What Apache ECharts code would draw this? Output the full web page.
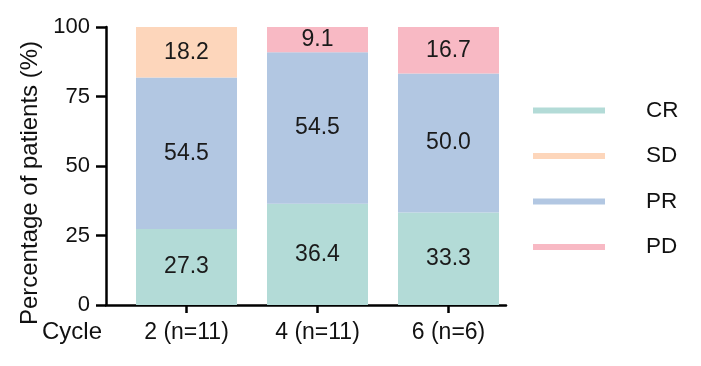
<!DOCTYPE html>
<html>
<head>
<meta charset="utf-8">
<script src="https://cdn.jsdelivr.net/npm/echarts@6/dist/echarts.min.js"></script>
<style>html,body{margin:0;padding:0;background:#fff}#c{width:701px;height:366px}</style>
</head>
<body>
<div id="c"></div>
<script>
var categories = ['2 (n=11)', '4 (n=11)', '6 (n=6)'];
var CR = [27.3, 36.4, 33.3];
var PR = [54.5, 54.5, 50.0];
var SD = [18.2, 0, 0];
var PD = [0, 9.1, 16.7];
var yTicks = [0, 25, 50, 75, 100];
var legendOrder = ['CR', 'SD', 'PR', 'PD'];

var colors = {CR: '#b3dbd7', SD: '#fdd6bb', PR: '#b2c7e2', PD: '#f8b9c4'};
var FONT = 'Liberation Sans, Arial, sans-serif';

function mk(name, arr) {
  return {
    name: name, type: 'bar', stack: 'all', barWidth: 101,
    xAxisIndex: 0, yAxisIndex: 0,
    data: arr,
    itemStyle: {color: colors[name]},
    label: {
      show: true, position: 'inside', color: '#1a1a1a', fontSize: 23, fontFamily: FONT,
      formatter: function (p) { return p.value === 0 ? '' : p.value.toFixed(1); }
    },
    emphasis: {disabled: true}
  };
}

var axisBlack = {color: '#000', width: 2.5};
var chart = echarts.init(document.getElementById('c'), null, {renderer: 'canvas'});
chart.setOption({
  animation: false,
  textStyle: {fontFamily: FONT},
  title: {text: 'Cycle', left: 42, top: 320, padding: 0, textStyle: {fontSize: 24, fontWeight: 'normal', color: '#111', fontFamily: FONT}},
  grid: [
    {left: 121, right: 187, top: 27, bottom: 61},
    {left: 106, right: 195, top: 27, bottom: 61}
  ],
  legend: {
    orient: 'vertical', left: 528, top: 94, itemWidth: 72, itemHeight: 6, itemGap: 22.5,
    icon: 'rect', data: legendOrder,
    textStyle: {fontSize: 22.5, color: '#111', lineHeight: 22, padding: [0, 0, 0, 36], fontFamily: FONT}
  },
  xAxis: [
    {
      type: 'category', gridIndex: 0, data: categories,
      axisLine: {show: false},
      axisTick: {show: true, alignWithLabel: true, length: 8, lineStyle: axisBlack},
      axisLabel: {margin: 16, fontSize: 23, color: '#111', fontFamily: FONT}
    },
    {
      type: 'value', gridIndex: 1, min: 0, max: 1,
      splitLine: {show: false}, axisTick: {show: false}, axisLabel: {show: false},
      axisLine: {show: true, lineStyle: axisBlack}
    }
  ],
  yAxis: [
    {
      type: 'value', gridIndex: 0, min: 0, max: 100,
      show: false, splitLine: {show: false}
    },
    {
      type: 'value', gridIndex: 1, min: 0, max: 100, interval: 25,
      name: 'Percentage of patients (%)', nameLocation: 'middle', nameGap: 59,
      nameTextStyle: {fontSize: 24, color: '#111', fontFamily: FONT, padding: [0, 34, 0, 0]},
      splitLine: {show: false},
      axisLine: {show: true, lineStyle: axisBlack},
      axisTick: {show: true, length: 10, lineStyle: axisBlack},
      axisLabel: {margin: 16, fontSize: 22, color: '#111', fontFamily: FONT,
        formatter: function (v) { return yTicks.indexOf(v) >= 0 ? String(v) : ''; }}
    }
  ],
  series: [mk('CR', CR), mk('PR', PR), mk('SD', SD), mk('PD', PD)]
});
</script>
</body>
</html>
